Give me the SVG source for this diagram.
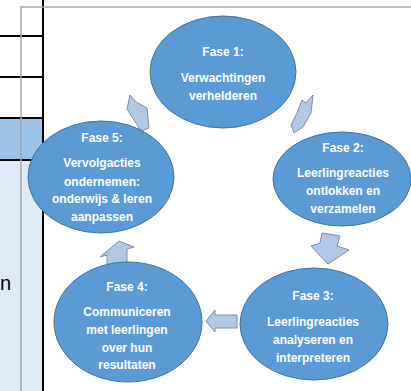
<svg xmlns="http://www.w3.org/2000/svg" width="411" height="391" viewBox="0 0 411 391">
<style>
.cell{stroke:none}
.blk{stroke:#000;stroke-width:2;fill:none}
.gray{stroke:#a6a6a6;stroke-width:1.5;fill:none}
.node ellipse{fill:#5b9bd5;stroke:#41719c;stroke-width:1}
.node text{font-family:"Liberation Sans",Arial,sans-serif;font-weight:bold;font-size:12px;fill:#fff;text-anchor:middle}
.arr{fill:#b0c8e6;stroke:#7d8ea8;stroke-width:1;stroke-linejoin:miter}
.side{font-family:"Liberation Sans",Arial,sans-serif;font-size:20px;fill:#000}
</style>
<rect width="411" height="391" fill="#fff"/>
<g id="table">
<rect class="cell" x="0" y="118" width="43" height="42" fill="#9dc3e6"/>
<rect class="cell" x="0" y="160" width="43" height="231" fill="#deebf7"/>
<line class="blk" x1="43" y1="0" x2="43" y2="391"/>
<line class="blk" x1="0" y1="36" x2="43" y2="36"/>
<line class="blk" x1="0" y1="77" x2="43" y2="77"/>
<line class="blk" x1="0" y1="118" x2="43" y2="118"/>
<line class="blk" x1="0" y1="160" x2="43" y2="160"/>
<text class="side" x="0" y="290">n</text>
</g>
<g id="frame">
<polyline class="gray" points="21,391 21,7 411,7"/>
</g>
<g id="connectors">
<polygon class="arr" points="130,95 136,102 147,108 149,128 141,131 127,109"/>
<polygon class="arr" points="302,100 306,103 313,95 311,113 303,127 294,133 291,125 297,113"/>
<polygon class="arr" points="322,233 340,236 337,246 349,250 328,264 311,246 320,243"/>
<polygon class="arr" points="206,321 215,310 215,315 237,315 237,328 215,328 215,332"/>
<polygon class="arr" points="119,241 134,247 127,249 127,265 107,265 107,255 100,257"/>
</g>
<g id="fase1" class="node">
<ellipse cx="223" cy="72" rx="73" ry="56"/>
<text x="223" y="56">Fase 1:</text>
<text x="223" y="82">Verwachtingen</text>
<text x="223" y="100">verhelderen</text>
</g>
<g id="fase2" class="node">
<ellipse cx="342" cy="179" rx="69" ry="47"/>
<text x="343" y="152">Fase 2:</text>
<text x="343" y="177">Leerlingreacties</text>
<text x="343" y="195">ontlokken en</text>
<text x="343" y="213">verzamelen</text>
</g>
<g id="fase3" class="node">
<ellipse cx="314" cy="324" rx="74" ry="56"/>
<text x="313" y="300">Fase 3:</text>
<text x="313" y="326">Leerlingreacties</text>
<text x="313" y="344">analyseren en</text>
<text x="313" y="362">interpreteren</text>
</g>
<g id="fase4" class="node">
<ellipse cx="128" cy="322" rx="74" ry="60"/>
<text x="127" y="291">Fase 4:</text>
<text x="127" y="316">Communiceren</text>
<text x="127" y="334">met leerlingen</text>
<text x="127" y="352">over hun</text>
<text x="127" y="369">resultaten</text>
</g>
<g id="fase5" class="node">
<ellipse cx="101" cy="177" rx="73" ry="56"/>
<text x="102" y="142">Fase 5:</text>
<text x="102" y="167">Vervolgacties</text>
<text x="102" y="186">ondernemen:</text>
<text x="102" y="203">onderwijs &amp; leren</text>
<text x="102" y="221">aanpassen</text>
</g>
</svg>
